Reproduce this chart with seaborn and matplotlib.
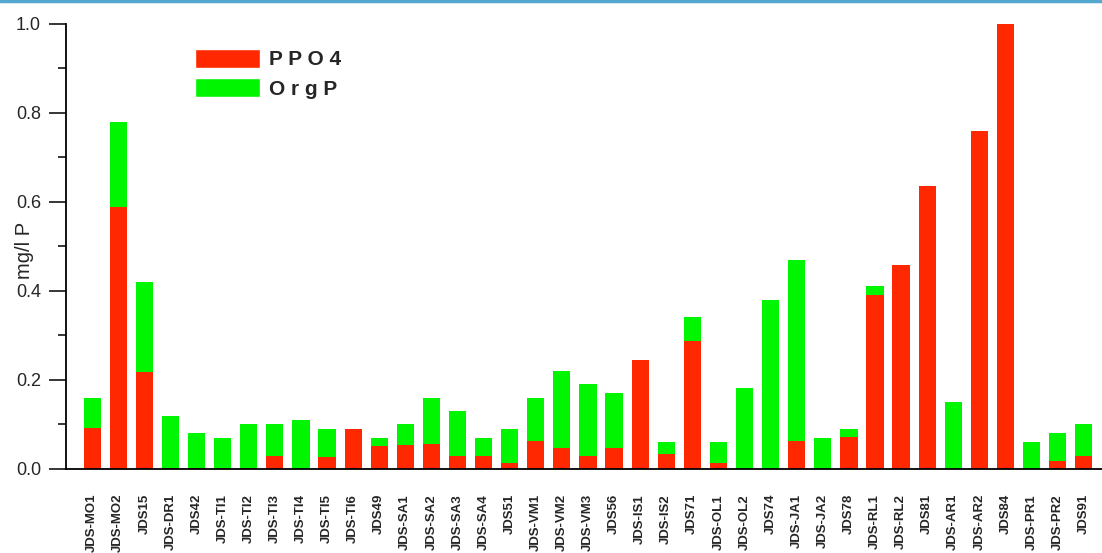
import numpy as np
import pandas as pd
import matplotlib
matplotlib.use('Agg')
import matplotlib.pyplot as plt
import seaborn as sns
from matplotlib import font_manager
from matplotlib.patches import Patch
from matplotlib.ticker import MultipleLocator, FormatStrFormatter

sites = ['JDS-MO1', 'JDS-MO2', 'JDS15', 'JDS-DR1', 'JDS42', 'JDS-TI1', 'JDS-TI2',
         'JDS-TI3', 'JDS-TI4', 'JDS-TI5', 'JDS-TI6', 'JDS49', 'JDS-SA1', 'JDS-SA2',
         'JDS-SA3', 'JDS-SA4', 'JDS51', 'JDS-VM1', 'JDS-VM2', 'JDS-VM3', 'JDS56',
         'JDS-IS1', 'JDS-IS2', 'JDS71', 'JDS-OL1', 'JDS-OL2', 'JDS74', 'JDS-JA1',
         'JDS-JA2', 'JDS78', 'JDS-RL1', 'JDS-RL2', 'JDS81', 'JDS-AR1', 'JDS-AR2',
         'JDS84', 'JDS-PR1', 'JDS-PR2', 'JDS91']

# dissolved phosphate (red part)
ppo4 = [0.091, 0.588, 0.218, 0.003, 0.003, 0.0, 0.003, 0.029, 0.0, 0.027,
        0.090, 0.051, 0.053, 0.057, 0.029, 0.029, 0.014, 0.063, 0.048, 0.030,
        0.048, 0.244, 0.033, 0.287, 0.014, 0.0, 0.0, 0.063, 0.0, 0.072,
        0.390, 0.459, 0.635, 0.0, 0.760, 1.000, 0.0, 0.018, 0.030]

# total P = PPO4 + OrgP (top of each bar)
total_p = [0.160, 0.780, 0.420, 0.120, 0.081, 0.070, 0.100, 0.100, 0.110, 0.090,
           0.090, 0.070, 0.100, 0.160, 0.130, 0.070, 0.090, 0.160, 0.220, 0.190,
           0.171, 0.244, 0.060, 0.341, 0.060, 0.181, 0.380, 0.470, 0.070, 0.090,
           0.410, 0.459, 0.635, 0.150, 0.760, 1.000, 0.060, 0.080, 0.100]

red = '#ff2800'
green = '#00f500'

df = pd.DataFrame({'site': sites, 'PPO4': ppo4, 'total': total_p})
df['OrgP'] = df['total'] - df['PPO4']

sns.set_style('white')
plt.rcParams['font.family'] = ['Liberation Sans', 'DejaVu Sans']

# narrow face for the site names if it is there
try:
    font_manager.findfont('Liberation Sans Narrow', fallback_to_default=False)
    site_font, site_size = ['Liberation Sans Narrow'], 11
except Exception:
    site_font, site_size = ['Liberation Sans', 'DejaVu Sans'], 9.5

fig = plt.figure(figsize=(11.02, 5.53), dpi=100)
ax = fig.add_axes([0.0600, 0.152, 0.9400, 0.805])

# stacked look: full bar in green, PPO4 part in red on top of it
sns.barplot(data=df, x='site', y='total', color=green, width=0.66,
            saturation=1, ax=ax, linewidth=0)
sns.barplot(data=df, x='site', y='PPO4', color=red, width=0.66,
            saturation=1, ax=ax, linewidth=0)

ax.set_xlim(-1.0, 38.7)
ax.set_ylim(0, 1.0)

ax.set_xticks(np.arange(-1, len(sites)))
ax.set_xticklabels([''] + sites, rotation=90, fontsize=site_size, fontweight='bold',
                   family=site_font, va='top', ha='center')
ax.tick_params(axis='x', direction='out', length=7, width=1.3, pad=11, color='black')

ax.yaxis.set_major_locator(MultipleLocator(0.2))
ax.yaxis.set_minor_locator(MultipleLocator(0.1))
ax.yaxis.set_major_formatter(FormatStrFormatter('%.1f'))
ax.tick_params(axis='y', which='major', direction='out', length=12, width=1.3,
               labelsize=13, pad=6, left=True)
ax.tick_params(axis='y', which='minor', direction='out', length=6, width=1.3, left=True)

ax.set_xlabel('')
ax.set_ylabel('mg/l P', fontsize=14.5)
ax.yaxis.set_label_coords(-0.031, 0.49)

for side in ['top', 'right']:
    ax.spines[side].set_visible(False)
for side in ['left', 'bottom']:
    ax.spines[side].set_color('black')
    ax.spines[side].set_linewidth(1.3)

handles = [Patch(facecolor=red, label='P P O 4'), Patch(facecolor=green, label='O r g P')]
leg = ax.legend(handles=handles, loc='upper left',
                bbox_to_anchor=(195 / 1102, 1 - 49 / 553), bbox_transform=fig.transFigure,
                frameon=False, handlelength=3.1, handleheight=1.0, borderpad=0,
                prop={'size': 15, 'weight': 'bold'}, labelspacing=0.42,
                handletextpad=0.45, borderaxespad=0)

# thin blue frame line at the top of the picture
fig.add_artist(plt.Line2D([0, 1], [0.998, 0.998], color='#55a7cf', lw=2.5,
                          transform=fig.transFigure))

fig.savefig('out.png', dpi=100)
